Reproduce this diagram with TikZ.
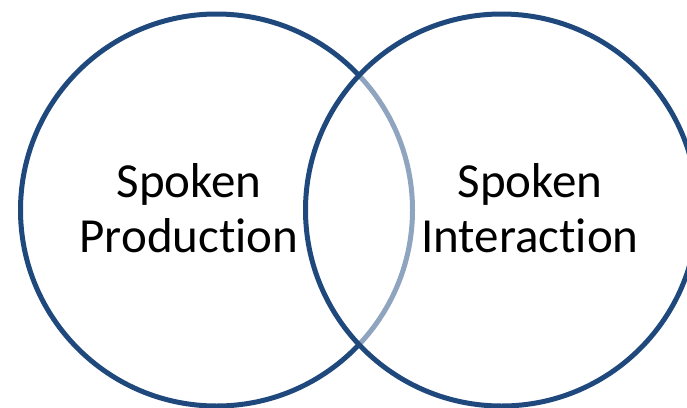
\documentclass[tikz,border=0pt]{standalone}
\usepackage{fontspec}
\setmainfont{Carlito}[Ligatures=NoCommon]
\definecolor{navy}{HTML}{1F497D}
\begin{document}
\begin{tikzpicture}[x=1pt,y=-1pt,
  ring/.style={draw=navy,line width=5pt},
  label/.style={align=center,font=\fontsize{49}{55}\selectfont,inner sep=0pt,anchor=base}]
\useasboundingbox[fill=white] (0,0) rectangle (687,407);
\node[ring,circle,minimum size=392pt,inner sep=0pt] (left) at (216.5,210) {};
\node[ring,circle,minimum size=392pt,inner sep=0pt,fill=white,fill opacity=0.5] (right) at (501.5,210) {};
\node[label] (prod) at (189,252) {Spoken\\Production};
\node[label] (inter) at (530,252) {Spoken\\Interaction};
\end{tikzpicture}
\end{document}
